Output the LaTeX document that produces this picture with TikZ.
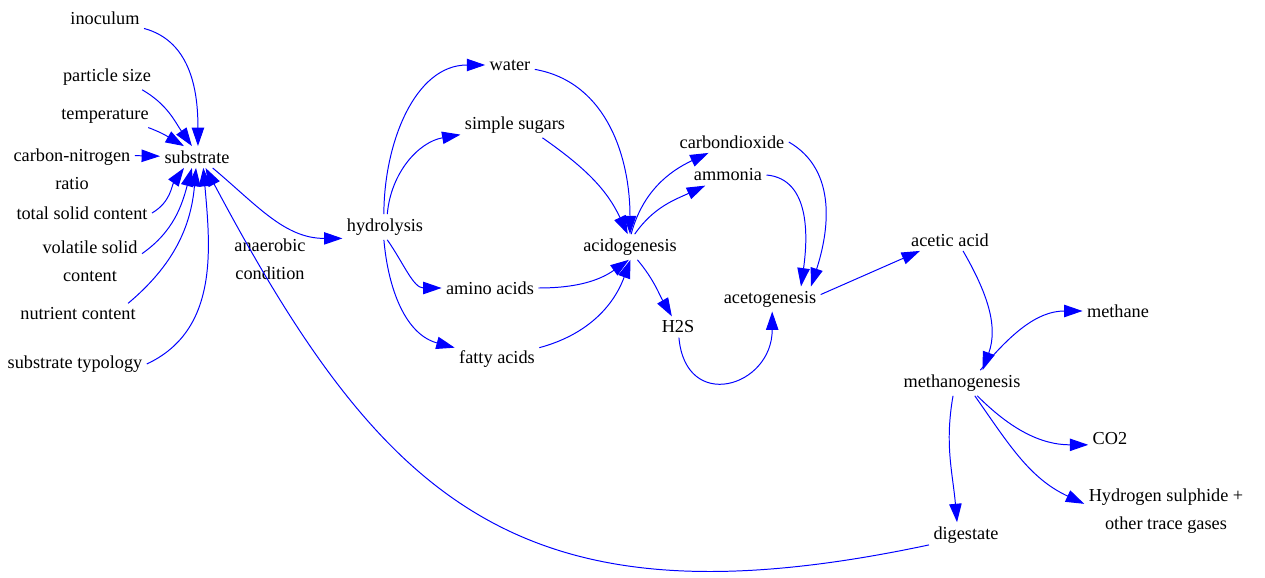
\documentclass[tikz,border=0pt]{standalone}
\usepackage{fontspec}
\setmainfont{Liberation Serif}
\usepackage{tikz}
\usetikzlibrary{arrows.meta}

\begin{document}
\begin{tikzpicture}[x=0.025cm, y=-0.025cm]
\tikzstyle{var} = [font=\fontsize{13}{20}\selectfont, align=center, inner sep=3pt]
\tikzstyle{arrow} = [draw=blue, line width=0.7pt, -{Triangle[length=4.6mm, width=3.1mm]}, blue]

\useasboundingbox (0,0) rectangle (1265,578);

% inputs to substrate
\node (inoculum) [var] at (105,18) {inoculum};
\node (particle) [var] at (107,77) {particle size};
\node (temp) [var] at (105,116) {temperature};
\node (cn) [var] at (72,169) {carbon-nitrogen\\ratio};
\node (substrate) [var] at (197,157) {substrate};
\node (tsc) [var] at (82,213) {total solid content};
\node (vsc) [var] at (90,261) {volatile solid\\content};
\node (nutrient) [var] at (78,314) {nutrient content};
\node (typology) [var] at (75,364) {substrate typology};
\node (anaerobic) [var] at (270,259) {anaerobic\\condition};

% hydrolysis and acidogenesis
\node (hydrolysis) [var] at (385,227) {hydrolysis};
\node (water) [var] at (510,65) {water};
\node (sugars) [var] at (515,125) {simple sugars};
\node (amino) [var] at (490,288) {amino acids};
\node (fatty) [var] at (497,359) {fatty acids};
\node (acido) [var] at (630,247) {acidogenesis};
\node (co2a) [var] at (732,142) {carbondioxide};
\node (ammonia) [var] at (728,175) {ammonia};
\node (h2s) [var] at (678,327) {H2S};

% acetogenesis and methanogenesis
\node (aceto) [var] at (770,299) {acetogenesis};
\node (acetic) [var] at (950,240) {acetic acid};
\node (methano) [var] at (962,383) {methanogenesis};
\node (methane) [var] at (1118,311) {methane};
\node (co2b) [var] at (1110,439) {CO2};
\node (trace) [var] at (1166,511) {Hydrogen sulphide +\\other trace gases};
\node (digestate) [var] at (966,535) {digestate};

\draw [arrow] (inoculum) to[out=-15, in=90] (substrate.85);
\draw [arrow] (particle.-20) to[out=-30, in=125] (substrate.115);
\draw [arrow] (temp.-15) to[out=-20, in=150] (substrate.140);
\draw [arrow] (cn.12) to (substrate);
\draw [arrow] (tsc.east) to[out=30, in=-125] (substrate.-140);
\draw [arrow] (vsc.8) to[out=35, in=-105] (substrate.-115);
\draw [arrow] (nutrient.12) to[out=40, in=-95] (substrate.-95);
\draw [arrow] (typology.east) to[out=25, in=-85] (substrate.-60);
\draw [arrow] (digestate.195) to[out=192, in=-62, out looseness=1.3, in looseness=1.2] (substrate.-52);
\draw [arrow] (substrate.-35) to[out=-40, in=180] (hydrolysis.195);

\draw [arrow] (hydrolysis.95) to[out=90, in=180] (water);
\draw [arrow] (hydrolysis.80) to[out=85, in=190] (sugars);
\draw [arrow] (hydrolysis.-80) to[out=-55, in=180] (amino);
\draw [arrow] (hydrolysis.-95) to[out=-85, in=165] (fatty);
\draw [arrow] (water) to[out=-10, in=90] (acido.90);
\draw [arrow] (sugars.-25) to[out=-35, in=115] (acido.100);
\draw [arrow] (amino) to[out=0, in=-145] (acido.-95);
\draw [arrow] (fatty) to[out=15, in=-110] (acido.-88);
\draw [arrow] (acido.85) to[out=75, in=205] (co2a);
\draw [arrow] (acido.70) to[out=55, in=205] (ammonia);
\draw [arrow] (acido.-60) to[out=-50, in=120] (h2s);

\draw [arrow] (h2s) to[out=-85, in=-90, looseness=2] (aceto.-80);
\draw [arrow] (co2a.east) to[out=-30, in=72] (aceto.17);
\draw [arrow] (ammonia.east) to[out=-5, in=82] (aceto.22);
\draw [arrow] (aceto.5) to (acetic.200);
\draw [arrow] (acetic.-40) to[out=-60, in=70] (methano.32);
\draw [arrow] (methano.35) to[out=50, in=180] (methane);
\draw [arrow] (methano.-40) to[out=-45, in=180] (co2b.195);
\draw [arrow] (methano.-45) to[out=-55, in=155] (trace.175);
\draw [arrow] (methano.-125) to[out=-100, in=95] (digestate.125);
\end{tikzpicture}
\end{document}
